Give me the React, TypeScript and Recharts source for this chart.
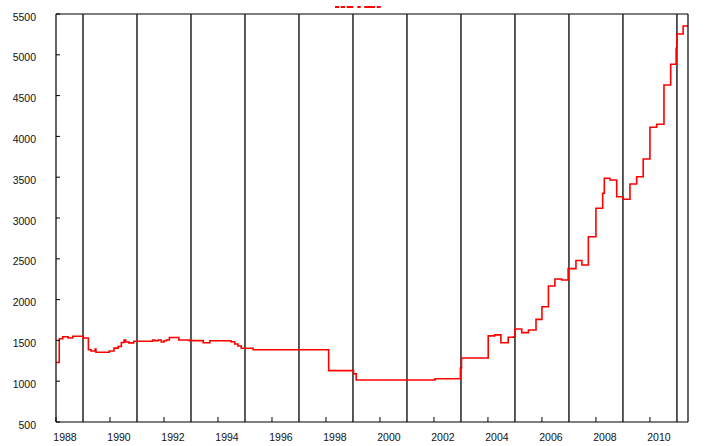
import { LineChart, Line, XAxis, YAxis, ReferenceLine, Legend } from 'recharts'

// step points: start year of each level and its value
const years = [
  1988.0, 1988.12, 1988.25, 1988.45, 1988.62, 1989.0, 1989.2, 1989.3, 1989.45, 1989.48,
  1989.97, 1990.15, 1990.3, 1990.42, 1990.52, 1990.58, 1990.7, 1990.88, 1991.58, 1991.66,
  1991.78, 1991.9, 1992.0, 1992.1, 1992.2, 1992.55, 1992.94, 1993.45, 1993.7, 1994.48,
  1994.62, 1994.74, 1994.86, 1995.3, 1998.1, 1999.02, 1999.12, 2002.04, 2002.98, 2003.02,
  2004.01, 2004.25, 2004.48, 2004.75, 2004.96, 2005.0, 2005.25, 2005.5, 2005.78, 2006.0,
  2006.24, 2006.48, 2006.73, 2006.97, 2007.26, 2007.48, 2007.72, 2008.0, 2008.25, 2008.31,
  2008.52, 2008.77, 2009.01, 2009.26, 2009.51, 2009.75, 2010.0, 2010.25, 2010.52, 2010.77,
  2010.97, 2011.0, 2011.23, 2011.41,
]
const values = [
  1230, 1520, 1545, 1530, 1550, 1530, 1385, 1370, 1395, 1355,
  1370, 1405, 1425, 1475, 1505, 1480, 1470, 1490, 1505, 1495,
  1505, 1480, 1495, 1505, 1535, 1505, 1497, 1472, 1496, 1484,
  1456, 1431, 1403, 1385, 1130, 1090, 1015, 1030, 1160, 1285,
  1555, 1568, 1472, 1538, 1545, 1640, 1595, 1627, 1758, 1913,
  2167, 2252, 2240, 2380, 2480, 2424, 2771, 3119, 3303, 3487,
  3466, 3261, 3229, 3416, 3506, 3723, 4112, 4148, 4630, 4884,
  5080, 5255, 5353, 5353,
]
const yearTicks = [1988, 1990, 1992, 1994, 1996, 1998, 2000, 2002, 2004, 2006, 2008, 2010]
const boundaryYears = [1989, 1991, 1993, 1995, 1997, 1999, 2001, 2003, 2005, 2007, 2009, 2011]
const valueTicks = [500, 1000, 1500, 2000, 2500, 3000, 3500, 4000, 4500, 5000, 5500]

const data = years.map((year, i) => ({ year, value: values[i] }))

const font = {
  fontFamily: '"Liberation Sans", Arial, sans-serif',
  fontSize: 10.5,
  fill: '#111',
}

function LeftTick({ x, y, payload }: any) {
  return (
    <g>
      <line x1={x} x2={x + 4} y1={y} y2={y} stroke="#000" />
      <text x={x - 20} y={y + 6.5} textAnchor="end" {...font}>{payload.value}</text>
    </g>
  )
}

function RightTick({ x, y, payload }: any) {
  return (
    <g>
      <line x1={x} x2={x - 4} y1={y} y2={y} stroke="#000" />
      <text x={x + 6} y={y + 6.5} textAnchor="start" {...font}>{payload.value}</text>
    </g>
  )
}

function BottomTick({ x, y, payload }: any) {
  return (
    <g>
      <line x1={x} x2={x} y1={y} y2={y - 5} stroke="#000" />
      <text x={x + 9} y={y + 19} textAnchor="middle" {...font}>{payload.value}</text>
    </g>
  )
}

function LegendMark() {
  return (
    <svg width={717} height={14} style={{ display: 'block' }}>
      <line
        x1={335}
        x2={381}
        y1={7}
        y2={7}
        stroke="#ff0000"
        strokeWidth={2}
        strokeDasharray="4.3 1.4 4.3 1.7 6.6 4 3.4 3.6 10.7 1.7 4 20"
      />
    </svg>
  )
}

export default function App() {
  return (
    <div style={{ position: 'absolute', left: 0, top: 0 }}>
      <LineChart width={717} height={446} data={data} margin={{ top: 0, right: 0, bottom: 0, left: 0 }}>
        <Legend verticalAlign="top" content={LegendMark} wrapperStyle={{ left: 0, top: 0, width: 717 }} />
        <XAxis
          type="number"
          dataKey="year"
          domain={[1988, 2011.41]}
          ticks={yearTicks}
          interval={0}
          allowDataOverflow
          height={24}
          tickSize={0}
          tickMargin={0}
          tickLine={false}
          axisLine={{ stroke: '#000', strokeWidth: 1.2 }}
          tick={BottomTick}
        />
        <YAxis
          yAxisId="l"
          orientation="left"
          domain={[500, 5500]}
          ticks={valueTicks}
          interval={0}
          width={56}
          tickSize={0}
          tickMargin={0}
          tickLine={false}
          axisLine={{ stroke: '#000', strokeWidth: 1.2 }}
          tick={LeftTick}
        />
        <YAxis
          yAxisId="r"
          orientation="right"
          domain={[500, 5500]}
          ticks={valueTicks}
          interval={0}
          width={29}
          tickSize={0}
          tickMargin={0}
          tickLine={false}
          axisLine={{ stroke: '#000', strokeWidth: 1.2 }}
          tick={RightTick}
        />
        <ReferenceLine yAxisId="l" y={5500} stroke="#000" strokeWidth={1.2} />
        {boundaryYears.map((yr) => (
          <ReferenceLine key={yr} yAxisId="l" x={yr} stroke="#222" strokeWidth={1.5} />
        ))}
        <Line
          yAxisId="l"
          type="stepAfter"
          dataKey="value"
          stroke="#ff0000"
          strokeWidth={1.6}
          dot={false}
          isAnimationActive={false}
        />
      </LineChart>
    </div>
  )
}
